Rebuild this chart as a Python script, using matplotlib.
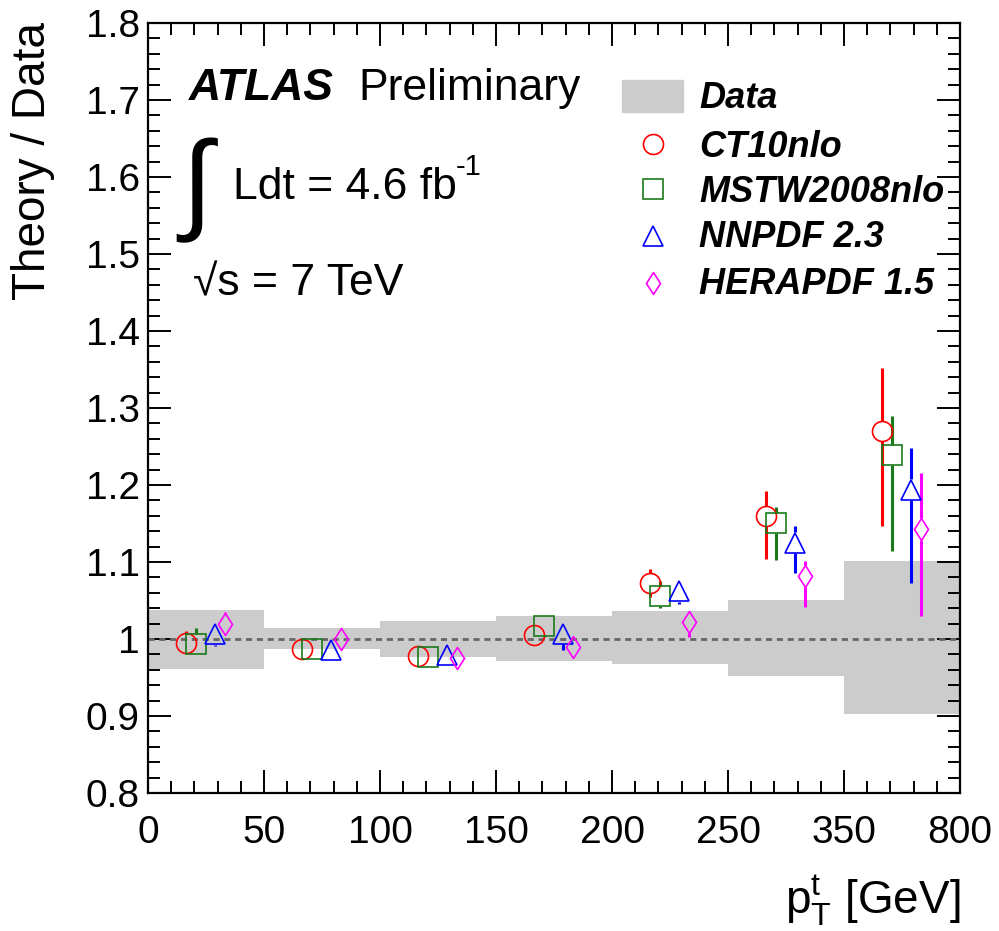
import numpy as np
import matplotlib
matplotlib.use('Agg')
import matplotlib.pyplot as plt
from matplotlib.path import Path
from matplotlib.patches import Rectangle
from matplotlib.ticker import MultipleLocator, FixedLocator, FuncFormatter

plt.rcParams['font.family'] = ['Liberation Sans', 'DejaVu Sans']
plt.rcParams['mathtext.fontset'] = 'custom'
plt.rcParams['mathtext.rm'] = 'Liberation Sans'
plt.rcParams['mathtext.it'] = 'Liberation Sans:italic'
plt.rcParams['mathtext.bf'] = 'Liberation Sans:bold'

# ---------------- data ----------------
bin_labels = ["0", "50", "100", "150", "200", "250", "350", "800"]

data_hi = [1.038, 1.014, 1.023, 1.030, 1.036, 1.051, 1.101]
data_lo = [0.961, 0.987, 0.977, 0.971, 0.967, 0.952, 0.902]

ct10 = [0.995, 0.987, 0.978, 1.005, 1.073, 1.160, 1.270]
ct10_hi = [1.010, 0.995, 0.986, 1.013, 1.091, 1.192, 1.352]
ct10_lo = [0.985, 0.979, 0.970, 0.997, 1.055, 1.104, 1.147]

mstw = [0.994, 0.987, 0.977, 1.017, 1.056, 1.151, 1.239]
mstw_hi = [1.014, 0.995, 0.985, 1.025, 1.075, 1.172, 1.290]
mstw_lo = [0.985, 0.979, 0.969, 1.003, 1.040, 1.103, 1.114]

nnpdf = [1.006, 0.986, 0.979, 1.007, 1.062, 1.125, 1.194]
nnpdf_hi = [1.015, 0.994, 0.987, 1.015, 1.070, 1.147, 1.248]
nnpdf_lo = [0.991, 0.978, 0.971, 0.986, 1.045, 1.086, 1.073]

hera = [1.020, 1.000, 0.975, 0.990, 1.022, 1.082, 1.143]
hera_hi = [1.035, 1.008, 0.983, 0.998, 1.035, 1.101, 1.215]
hera_lo = [1.005, 0.992, 0.967, 0.982, 1.003, 1.042, 1.030]

series_names = ["CT10nlo", "MSTW2008nlo", "NNPDF 2.3", "HERAPDF 1.5"]

# ---------------- style ----------------
W, H, DPI = 999, 931, 100
fig = plt.figure(figsize=(W / DPI, H / DPI), dpi=DPI)
L, R, T, B = 148, 960, 23, 793
ax = fig.add_axes([L / W, 1 - B / H, (R - L) / W, (B - T) / H])

nb = len(bin_labels) - 1
edges = np.arange(nb + 1)
ymin, ymax = 0.8, 1.8

diamond = Path([(0, 1), (0.64, 0), (0, -1), (-0.64, 0), (0, 1)],
               [Path.MOVETO, Path.LINETO, Path.LINETO, Path.LINETO, Path.CLOSEPOLY])

styles = [
    dict(color='#ff0000', marker='o', ms=14.4, off=0.33),
    dict(color='#1b7a1b', marker='s', ms=14.4, off=0.41),
    dict(color='#0000ff', marker='^', ms=15.0, off=0.58),
    dict(color='#ff00ff', marker=diamond, ms=15.8, off=0.66),
]
values = [(ct10, ct10_lo, ct10_hi), (mstw, mstw_lo, mstw_hi),
          (nnpdf, nnpdf_lo, nnpdf_hi), (hera, hera_lo, hera_hi)]

# data band
dlo = np.array(data_lo)
dhi = np.array(data_hi)
ax.bar(edges[:-1], dhi - dlo, bottom=dlo, width=1.0, align='edge',
       color='#cccccc', edgecolor='none', zorder=1)
ax.axhline(1.0, color='#666666', lw=2.0, ls=(0, (2.2, 1.7)), zorder=2)

ax.set_xlim(0, nb)
ax.set_ylim(ymin, ymax)

ax_h_px = (B - T)
data_per_px = (ymax - ymin) / ax_h_px

for st, (v, lo, hi) in zip(styles, values):
    x = edges[:-1] + st['off']
    v = np.array(v); lo = np.array(lo); hi = np.array(hi)
    gap = (st['ms'] * DPI / 72.0) / 2.0 * data_per_px
    for xi, vi, loi, hii in zip(x, v, lo, hi):
        if hii > vi + gap:
            ax.plot([xi, xi], [vi + gap, hii], color=st['color'], lw=2.2,
                    solid_capstyle='butt', zorder=3)
        if loi < vi - gap:
            ax.plot([xi, xi], [loi, vi - gap], color=st['color'], lw=2.2,
                    solid_capstyle='butt', zorder=3)
    ax.plot(x, v, ls='none', marker=st['marker'], ms=st['ms'], mfc='none',
            mec=st['color'], mew=1.2, zorder=4)

# axes styling
for sp in ax.spines.values():
    sp.set_linewidth(1.6)
ax.xaxis.set_major_locator(FixedLocator(edges))
ax.set_xticklabels(bin_labels)
ax.xaxis.set_minor_locator(MultipleLocator(0.2))
ax.yaxis.set_major_locator(MultipleLocator(0.1))
ax.yaxis.set_minor_locator(MultipleLocator(0.02))
ax.yaxis.set_major_formatter(FuncFormatter(lambda y, p: '{:g}'.format(round(y, 3))))
ax.tick_params(which='both', direction='in', top=True, right=True, width=1.4)
ax.tick_params(which='major', length=16.5, labelsize=28)
ax.tick_params(which='minor', length=8.5)
ax.tick_params(axis='x', which='major', pad=16)
ax.tick_params(axis='y', which='major', pad=6)

def fx(px):
    return px / W

def fy(py):
    return 1 - py / H

fig.text(fx(33), fy(22), 'Theory / Data', rotation=90, ha='center', va='top', fontsize=33)
fig.text(fx(960), fy(913), r'$\mathrm{p}_{\mathrm{T}}^{\mathrm{t}}$ [GeV]', ha='right',
         va='baseline', fontsize=33)

fig.text(fx(189), fy(100), 'ATLAS', fontsize=32, fontweight='bold', fontstyle='italic',
         va='baseline')
fig.text(fx(358), fy(100), 'Preliminary', fontsize=32, va='baseline')
fig.text(fx(181), fy(243), '\u222b', fontsize=80, va='bottom', ha='left')
fig.text(fx(233), fy(199), 'Ldt = 4.6 fb', fontsize=32, va='baseline')
fig.text(fx(456), fy(175), '-1', fontsize=21, va='baseline')
fig.text(fx(193), fy(295), '\u221as = 7 TeV', fontsize=32, va='baseline')

# legend
fig.patches.append(Rectangle((fx(622), fy(112)), (683 - 622) / W, (112 - 80) / H,
                             transform=fig.transFigure, color='#cccccc', zorder=1))
fig.text(fx(699), fy(108), 'Data', fontsize=26, fontweight='bold', fontstyle='italic',
         va='baseline')
leg_y = [144, 189, 236, 283]
leg_base = [157, 202, 247, 294]
for st, name, yc, yb in zip(styles, series_names, leg_y, leg_base):
    fig.lines.append(plt.Line2D([fx(653)], [fy(yc)], transform=fig.transFigure,
                                ls='none', marker=st['marker'], ms=st['ms'], mfc='none',
                                mec=st['color'], mew=1.2))
    fig.text(fx(699), fy(yb), name, fontsize=26, fontweight='bold', fontstyle='italic',
             va='baseline')

fig.savefig('out.png', dpi=DPI)
